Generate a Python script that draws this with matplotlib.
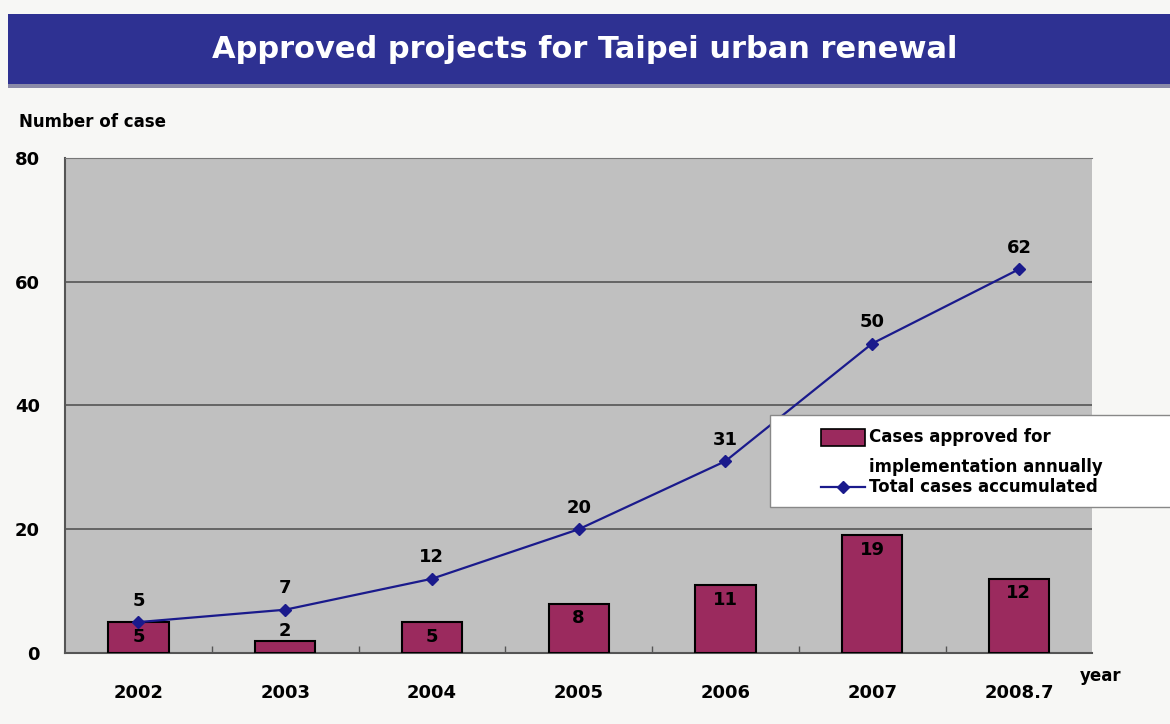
import matplotlib.pyplot as plt
from matplotlib.patches import Rectangle

anos = ['2002', '2003', '2004', '2005', '2006', '2007', '2008.7']
aprovados = [5, 2, 5, 8, 11, 19, 12]
acumulados = [5, 7, 12, 20, 31, 50, 62]

cor_barra = '#9b2a5e'
cor_linha = '#1a1a8c'

plt.rcParams['font.family'] = ['DejaVu Sans']
plt.rcParams['font.weight'] = 'bold'

fig = plt.figure(figsize=(11.7, 7.24), dpi=100)
fig.patch.set_facecolor('#f7f7f5')

# Faixa do título
fig.patches.append(Rectangle((0.007, 0.883), 0.993, 0.098, transform=fig.transFigure,
                             facecolor='#2e3192', edgecolor='none', zorder=0))
fig.patches.append(Rectangle((0.007, 0.879), 0.993, 0.005, transform=fig.transFigure,
                             facecolor='#8a8aa8', edgecolor='none', zorder=0))
fig.text(0.5, 0.932, 'Approved projects for Taipei urban renewal', color='white',
         fontsize=22, ha='center', va='center', fontweight='bold')

ax = fig.add_axes([0.0556, 0.098, 0.878, 0.684])
ax.set_facecolor('#c0c0c0')
x = list(range(len(anos)))

ax.bar(x, aprovados, width=0.41, color=cor_barra, edgecolor='black', linewidth=1.5, zorder=3)
ax.plot(x, acumulados, color=cor_linha, marker='D', markersize=6, linewidth=1.6, zorder=4)

for i, v in enumerate(aprovados):
    if v < 4:
        ax.text(i, v + 0.1, str(v), ha='center', va='bottom', fontsize=13, zorder=5)
    else:
        ax.text(i, v - 0.9, str(v), ha='center', va='top', fontsize=13, zorder=5)
for i, v in enumerate(acumulados):
    ax.text(i, v + 2.0, str(v), ha='center', va='bottom', fontsize=13, zorder=5)

ax.set_xlim(-0.5, len(anos) - 0.5)
ax.set_ylim(0, 80)
ax.set_yticks([0, 20, 40, 60, 80])
ax.yaxis.grid(True, color='#555555', linewidth=1.2, zorder=0)
ax.set_axisbelow(True)
ax.set_xticks(x)
ax.set_xticklabels(anos, fontsize=13)
# pequenos traços entre as categorias
ax.set_xticks([i + 0.5 for i in x[:-1]], minor=True)
ax.tick_params(axis='x', which='minor', direction='in', length=5, color='#555555', width=1)
ax.tick_params(axis='x', which='major', length=0, pad=22)
ax.tick_params(axis='y', length=0, pad=18, labelsize=13)
ax.spines['right'].set_visible(False)
ax.spines['left'].set_color('#555555')
ax.spines['bottom'].set_color('#555555')
ax.spines['left'].set_linewidth(1.5)
ax.spines['bottom'].set_linewidth(1.5)
ax.spines['top'].set_color('#777777')

fig.text(0.016, 0.832, 'Number of case', fontsize=12, ha='left', va='center')
fig.text(0.923, 0.066, 'year', fontsize=12, ha='left', va='center')

# Legenda
fig.patches.append(Rectangle((0.658, 0.3), 0.35, 0.127, transform=fig.transFigure,
                             facecolor='white', edgecolor='#888888', linewidth=1, zorder=5))
fig.patches.append(Rectangle((0.702, 0.384), 0.037, 0.023, transform=fig.transFigure,
                             facecolor=cor_barra, edgecolor='black', linewidth=1.2, zorder=6))
fig.text(0.743, 0.396, 'Cases approved for', fontsize=12, va='center', zorder=7)
fig.text(0.743, 0.355, 'implementation annually', fontsize=12, va='center', zorder=7)
fig.lines.append(plt.Line2D([0.702, 0.739], [0.327, 0.327], transform=fig.transFigure,
                            color=cor_linha, linewidth=1.6, zorder=6))
fig.lines.append(plt.Line2D([0.7205], [0.327], transform=fig.transFigure,
                            color=cor_linha, marker='D', markersize=6, zorder=6))
fig.text(0.743, 0.327, 'Total cases accumulated', fontsize=12, va='center', zorder=7)

fig.savefig('out.png', dpi=100, facecolor=fig.get_facecolor())
